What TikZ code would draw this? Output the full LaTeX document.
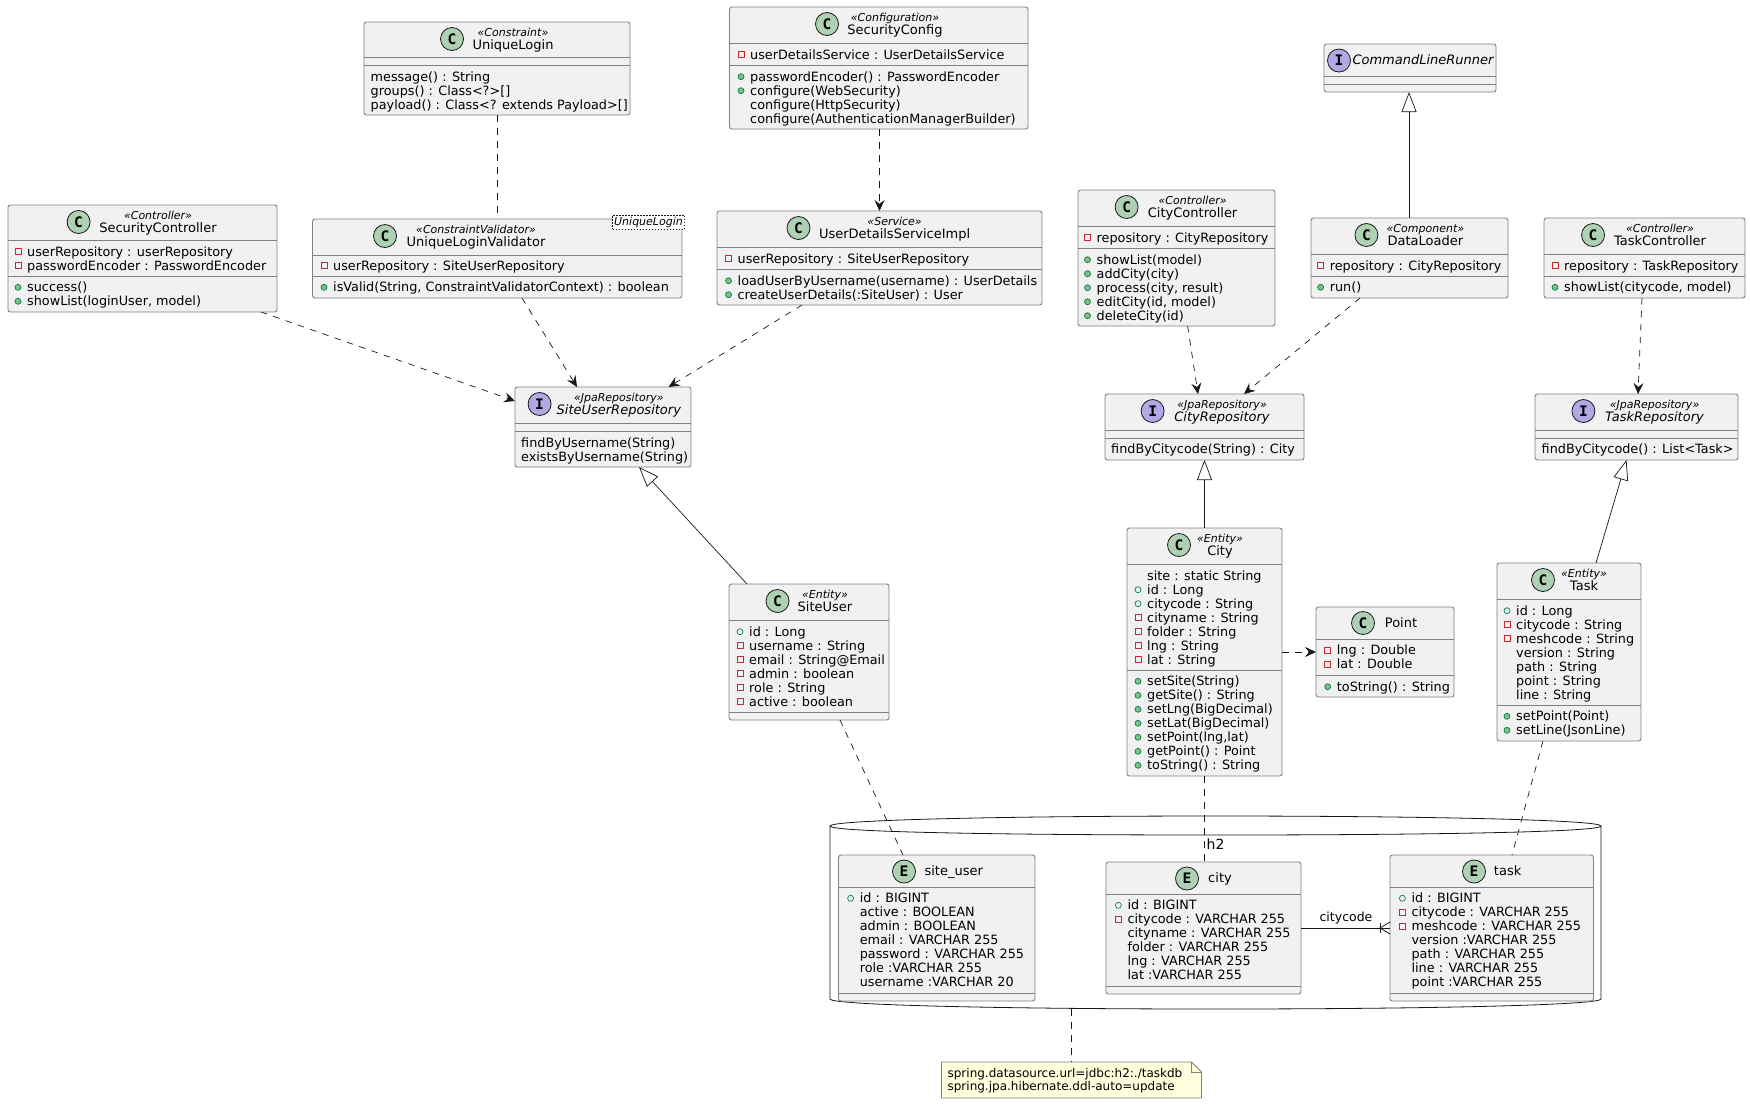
\documentclass[tikz,border=0pt]{standalone}
\usepackage{fontspec}
\setmainfont{DejaVu Sans}
\newfontfamily\iconf{DejaVu Sans Mono}
\usetikzlibrary{arrows.meta,calc}
\definecolor{boxfill}{HTML}{F1F1F1}
\definecolor{edge}{HTML}{181818}
\definecolor{boxedge}{HTML}{808080}
\definecolor{cgreen}{HTML}{ADD1B2}
\definecolor{ipurple}{HTML}{B4A7E5}
\definecolor{notefill}{HTML}{FEFFDD}
\definecolor{privred}{HTML}{C82930}
\definecolor{pubgreen}{HTML}{038048}
\definecolor{pubfill}{HTML}{84BE84}
\tikzset{
  x=1pt,y=-1pt,
  cls/.style={draw=boxedge,fill=boxfill,line width=.9pt,rounded corners=2.5pt,inner sep=0pt,outer sep=0pt},
  sepl/.style={draw=boxedge,line width=.9pt},
  mtext/.style={anchor=base west,inner sep=0pt,font=\fontsize{12.8}{14}\selectfont},
  ster/.style={anchor=base,inner sep=0pt,font=\fontsize{11}{12}\selectfont\itshape},
  ttl/.style={anchor=base,inner sep=0pt,font=\fontsize{13}{14}\selectfont},
  icon/.style={circle,draw=edge,line width=.8pt,minimum size=23pt,inner sep=0pt,font=\iconf\bfseries\fontsize{14.5}{14.5}\selectfont},
  dep/.style={draw=edge,line width=.7pt,dash pattern=on 6.5pt off 6.5pt,-{Stealth[length=11pt,width=10pt,inset=4pt]}},
  assoc/.style={draw=edge,line width=.7pt,dash pattern=on 6.5pt off 6.5pt},
  inh/.style={draw=edge,line width=.7pt,-{Triangle[length=20pt,width=15pt,fill=white]}},
  plainlink/.style={draw=edge,line width=.8pt},
}
\newcounter{tn}
\newcommand{\cbox}[7]{%
  \node[cls,minimum width={(#4-#2)*1pt},minimum height={(#5-#3)*1pt}] (#1) at ({(#2+#4)/2},{(#3+#5)/2}) {};
  \draw[sepl] (#1.west |- 0,#6) -- (#1.east |- 0,#6);
  \draw[sepl] (#1.west |- 0,#7) -- (#1.east |- 0,#7);
}
% class, letter, fill, icon x, text centre x, top y, stereotype, title
\newcommand{\hds}[8]{%
  \node[icon,fill=#3] (#1i) at (#4,#6+17) {#2};
  \node[ster] (#1s) at (#5,#6+14.5) {#7};
  \node[ttl] (#1t) at (#5,#6+27.5) {#8};
}
% class, letter, fill, icon x, text centre x, y, title
\newcommand{\hdn}[7]{%
  \node[icon,fill=#3] (#1i) at (#4,#6) {#2};
  \node[ttl] (#1t) at (#5,#6+4) {#7};
}
\newcommand{\kinds}[2]{\draw[privred,line width=.7pt] ({#1-3},{#2-3}) rectangle ({#1+3},{#2+3});}
\newcommand{\kindv}[2]{\draw[pubgreen,line width=.7pt] (#1,#2) circle[radius=3];}
\newcommand{\kindm}[2]{\draw[pubgreen,fill=pubfill,line width=.7pt] (#1,#2) circle[radius=3];}
\newcommand{\kindn}[2]{}
\newcommand{\mb}[4]{%
  \stepcounter{tn}%
  \csname kind#3\endcsname{#1-9}{#2}
  \node[mtext] (m\thetn) at (#1,#2+4.3) {#4};
}
\begin{document}
\begin{tikzpicture}
\useasboundingbox[fill=white] (0,0) rectangle (1750,1104);

% database
\node[inner sep=0pt,minimum width=771pt,minimum height=193pt] (db) at (1215.5,912.5) {};
\draw[edge,line width=.8pt] (830,826) .. controls (830,820) and (1000,816) .. (1215.5,816) .. controls (1431,816) and (1601,820) .. (1601,826)
  .. controls (1601,832) and (1431,835) .. (1215.5,835) .. controls (1000,835) and (830,832) .. (830,826) -- (830,999)
  .. controls (830,1005) and (1000,1009) .. (1215.5,1009) .. controls (1431,1009) and (1601,1005) .. (1601,999) -- (1601,826);
\node[ttl,font=\fontsize{14}{14}\selectfont] (dbt) at (1215.5,849) {h2};

% UniqueLogin
\cbox{ul}{364}{22}{630}{115}{57}{65}
\hds{ul}{C}{cgreen}{452}{513}{22}{«Constraint»}{UniqueLogin}
\mb{370.5}{76.7}{n}{message() : String}
\mb{370.5}{90.7}{n}{groups() : Class<?>[]}
\mb{370.5}{104.7}{n}{payload() : Class<? extends Payload>[]}

% SecurityController
\cbox{sc}{8}{205}{277}{312}{240}{276}
\hds{sc}{C}{cgreen}{78.6}{158}{205}{«Controller»}{SecurityController}
\mb{27}{251.7}{s}{userRepository : userRepository}
\mb{27}{265.7}{s}{passwordEncoder : PasswordEncoder}
\mb{27}{287.3}{m}{success()}
\mb{27}{301.3}{m}{showList(loginUser, model)}

% UniqueLoginValidator
\cbox{ulv}{312.5}{219}{682}{298}{255}{276}
\hds{ulv}{C}{cgreen}{385}{476}{219}{«ConstraintValidator»}{UniqueLoginValidator}
\mb{333}{265.7}{s}{userRepository : SiteUserRepository}
\mb{333}{287.3}{m}{isValid(String, ConstraintValidatorContext) : boolean}
\node[draw=edge,fill=white,dash pattern=on 1.5pt off 1.5pt,line width=.5pt,inner sep=0pt,minimum width=72pt,minimum height=14pt,font=\fontsize{11}{12}\selectfont\itshape] (ulvtpl) at (648.5,222) {UniqueLogin};

% SecurityConfig
\cbox{cfg}{729.5}{7}{1028}{129}{43}{65}
\hds{cfg}{C}{cgreen}{827}{895}{7}{«Configuration»}{SecurityConfig}
\mb{750}{54.7}{s}{userDetailsService : UserDetailsService}
\mb{750}{76.7}{m}{passwordEncoder() : PasswordEncoder}
\mb{750}{90.7}{m}{configure(WebSecurity)}
\mb{750}{104.7}{n}{configure(HttpSecurity)}
\mb{750}{118.7}{n}{configure(AuthenticationManagerBuilder)}

% UserDetailsServiceImpl
\cbox{uds}{717}{211}{1042}{305}{247}{269}
\hds{uds}{C}{cgreen}{798.5}{894.6}{211}{«Service»}{UserDetailsServiceImpl}
\mb{737.5}{258.7}{s}{userRepository : SiteUserRepository}
\mb{737.5}{280.7}{m}{loadUserByUsername(username) : UserDetails}
\mb{737.5}{294.7}{m}{createUserDetails(:SiteUser) : User}

% CityController
\cbox{cc}{1078}{190}{1275}{326}{226}{248}
\hds{cc}{C}{cgreen}{1126.6}{1192.6}{190}{«Controller»}{CityController}
\mb{1096.5}{237.7}{s}{repository : CityRepository}
\mb{1096.5}{259.7}{m}{showList(model)}
\mb{1096.5}{273.7}{m}{addCity(city)}
\mb{1096.5}{287.7}{m}{process(city, result)}
\mb{1096.5}{301.7}{m}{editCity(id, model)}
\mb{1096.5}{315.7}{m}{deleteCity(id)}

% CommandLineRunner
\cbox{clr}{1324}{44}{1496}{92}{76}{84}
\hdn{clr}{I}{ipurple}{1339}{1423}{60.5}{\itshape CommandLineRunner}

% DataLoader
\cbox{dl}{1311}{218}{1508}{298}{254}{276}
\hds{dl}{C}{cgreen}{1366.4}{1425.4}{218}{«Component»}{DataLoader}
\mb{1329.6}{265.7}{s}{repository : CityRepository}
\mb{1329.6}{287.3}{m}{run()}

% TaskController
\cbox{tc}{1544}{218}{1745}{298}{254}{276}
\hds{tc}{C}{cgreen}{1593}{1660}{218}{«Controller»}{TaskController}
\mb{1564}{265.7}{s}{repository : TaskRepository}
\mb{1564}{287.3}{m}{showList(citycode, model)}

% SiteUserRepository
\cbox{sur}{515}{387}{691}{467}{423}{431}
\hds{sur}{I}{ipurple}{539.6}{618.8}{387}{«JpaRepository»}{\itshape SiteUserRepository}
\mb{521}{442.7}{n}{findByUsername(String)}
\mb{521}{456.7}{n}{existsByUsername(String)}

% SiteUser
\cbox{su}{729}{584}{889}{720}{620}{712}
\hds{su}{C}{cgreen}{777.5}{825}{584}{«Entity»}{SiteUser}
\mb{749}{631.7}{v}{id : Long}
\mb{749}{645.7}{s}{username : String}
\mb{749}{659.7}{s}{email : String@Email}
\mb{749}{673.7}{s}{admin : boolean}
\mb{749}{687.7}{s}{role : String}
\mb{749}{701.7}{s}{active : boolean}

% CityRepository
\cbox{cr}{1105}{394}{1304}{460}{430}{438}
\hds{cr}{I}{ipurple}{1152.6}{1222}{394}{«JpaRepository»}{\itshape CityRepository}
\mb{1111}{449.3}{n}{findByCitycode(String) : City}

% TaskRepository
\cbox{tr}{1535}{394}{1738}{460}{430}{438}
\hds{tr}{I}{ipurple}{1583.4}{1654.5}{394}{«JpaRepository»}{\itshape TaskRepository}
\mb{1541.5}{449.3}{n}{findByCitycode() : List<Task>}

% City
\cbox{ci}{1127}{528}{1282}{776}{564}{670}
\hds{ci}{C}{cgreen}{1179}{1220}{528}{«Entity»}{City}
\mb{1147}{575.7}{n}{site : static String}
\mb{1147}{589.7}{v}{id : Long}
\mb{1147}{603.7}{v}{citycode : String}
\mb{1147}{617.7}{s}{cityname : String}
\mb{1147}{631.7}{s}{folder : String}
\mb{1147}{645.7}{s}{lng : String}
\mb{1147}{659.7}{s}{lat : String}
\mb{1147}{681.3}{m}{setSite(String)}
\mb{1147}{695.3}{m}{getSite() : String}
\mb{1147}{709.3}{m}{setLng(BigDecimal)}
\mb{1147}{723.3}{m}{setLat(BigDecimal)}
\mb{1147}{737.3}{m}{setPoint(lng,lat)}
\mb{1147}{751.3}{m}{getPoint() : Point}
\mb{1147}{765.3}{m}{toString() : String}

% Point
\cbox{pt}{1316}{607}{1454}{697}{639}{675}
\hdn{pt}{C}{cgreen}{1363}{1401}{623}{Point}
\mb{1336.7}{650.3}{s}{lng : Double}
\mb{1336.7}{664.3}{s}{lat : Double}
\mb{1336.7}{686.7}{m}{toString() : String}

% Task
\cbox{ta}{1497}{563}{1641}{741}{599}{705}
\hds{ta}{C}{cgreen}{1543}{1584}{563}{«Entity»}{Task}
\mb{1516}{610.7}{v}{id : Long}
\mb{1516}{624.7}{s}{citycode : String}
\mb{1516}{638.7}{s}{meshcode : String}
\mb{1516}{652.7}{n}{version : String}
\mb{1516}{666.7}{n}{path : String}
\mb{1516}{680.7}{n}{point : String}
\mb{1516}{694.7}{n}{line : String}
\mb{1516}{716.3}{m}{setPoint(Point)}
\mb{1516}{730.3}{m}{setLine(JsonLine)}

% site_user
\cbox{dsu}{838.5}{855}{1035}{1001}{887}{993}
\hdn{dsu}{E}{cgreen}{904}{953.7}{871.5}{site\_user}
\mb{859.6}{898.3}{v}{id : BIGINT}
\mb{859.6}{912.3}{n}{active : BOOLEAN}
\mb{859.6}{926.3}{n}{admin : BOOLEAN}
\mb{859.6}{940.3}{n}{email : VARCHAR 255}
\mb{859.6}{954.3}{n}{password : VARCHAR 255}
\mb{859.6}{968.3}{n}{role :VARCHAR 255}
\mb{859.6}{982.3}{n}{username :VARCHAR 20}

% city
\cbox{dci}{1106}{862}{1301}{994}{894}{986}
\hdn{dci}{E}{cgreen}{1187}{1220}{878.5}{city}
\mb{1127.4}{905.3}{v}{id : BIGINT}
\mb{1127.4}{919.3}{s}{citycode : VARCHAR 255}
\mb{1127.4}{933.3}{n}{cityname : VARCHAR 255}
\mb{1127.4}{947.3}{n}{folder : VARCHAR 255}
\mb{1127.4}{961.3}{n}{lng : VARCHAR 255}
\mb{1127.4}{975.3}{n}{lat :VARCHAR 255}

% task
\cbox{dta}{1390}{855}{1593.5}{1001}{887}{993}
\hdn{dta}{E}{cgreen}{1474}{1507.6}{871.5}{task}
\mb{1411.4}{898.3}{v}{id : BIGINT}
\mb{1411.4}{912.3}{s}{citycode : VARCHAR 255}
\mb{1411.4}{926.3}{s}{meshcode : VARCHAR 255}
\mb{1411.4}{940.3}{n}{version :VARCHAR 255}
\mb{1411.4}{954.3}{n}{path : VARCHAR 255}
\mb{1411.4}{968.3}{n}{line : VARCHAR 255}
\mb{1411.4}{982.3}{n}{point :VARCHAR 255}

% note
\node[inner sep=0pt,minimum width=260pt,minimum height=36pt] (nt) at (1071.5,1080) {};
\draw[boxedge,fill=notefill,line width=.9pt] (941.5,1062) -- (1191.5,1062) -- (1201.5,1072) -- (1201.5,1098) -- (941.5,1098) -- cycle;
\draw[boxedge,line width=.9pt] (1191.5,1062) -- (1191.5,1072) -- (1201.5,1072);
\node[mtext,font=\fontsize{12}{13}\selectfont] (nt1) at (947.4,1077.7) {spring.datasource.url=jdbc:h2:./taskdb};
\node[mtext,font=\fontsize{12}{13}\selectfont] (nt2) at (947.4,1090.7) {spring.jpa.hibernate.ddl-auto=update};

% connectors
\draw[assoc] (ul.south -| 497,0) -- (ulv.north -| 497,0);
\draw[dep] (cfg.south -| 879.5,0) -- (uds.north -| 879.5,0);
\draw[dep] (sc.south -| 261,0) -- (sur.west |- 0,401);
\draw[dep] (ulv.south -| 522,0) -- (sur.north -| 577,0);
\draw[dep] (uds.south -| 802,0) -- (sur.north -| 668.6,0);
\draw[dep] (cc.south -| 1187.6,0) -- (cr.north -| 1198,0);
\draw[dep] (dl.south -| 1360,0) -- (cr.north -| 1244,0);
\draw[dep] (tc.south -| 1642,0) -- (tr.north -| 1638,0);
\draw[inh] (dl.north -| 1409,0) -- (clr.south -| 1409,0);
\draw[inh] (su.north -| 747,0) -- (sur.south -| 639,0);
\draw[inh] (ci.north -| 1204.5,0) -- (cr.south -| 1204.5,0);
\draw[inh] (ta.north -| 1596,0) -- (tr.south -| 1626.5,0);
\draw[dep] (ci.east |- 0,652) -- (pt.west |- 0,652);
\draw[assoc] (su.south -| 840,0) -- (dsu.north -| 903,0);
\draw[assoc] (ci.south -| 1204.5,0) -- (dci.north -| 1204.5,0);
\draw[assoc] (ta.south -| 1543,0) -- (dta.north -| 1512,0);
\draw[assoc] (db.south -| 1071.5,0) -- (nt.north -| 1071.5,0);
\draw[plainlink] (dci.east) -- (dta.west);
\draw[plainlink] ($(dta.west)+(0,-6)$) -- ($(dta.west)+(-10,0)$) -- ($(dta.west)+(0,6)$);
\draw[plainlink] ($(dta.west)+(-10,-5)$) -- ($(dta.west)+(-10,5)$);
\node[inner sep=0pt,font=\fontsize{12.5}{13}\selectfont] (lbl) at (1346,918) {citycode};
\end{tikzpicture}
\end{document}
